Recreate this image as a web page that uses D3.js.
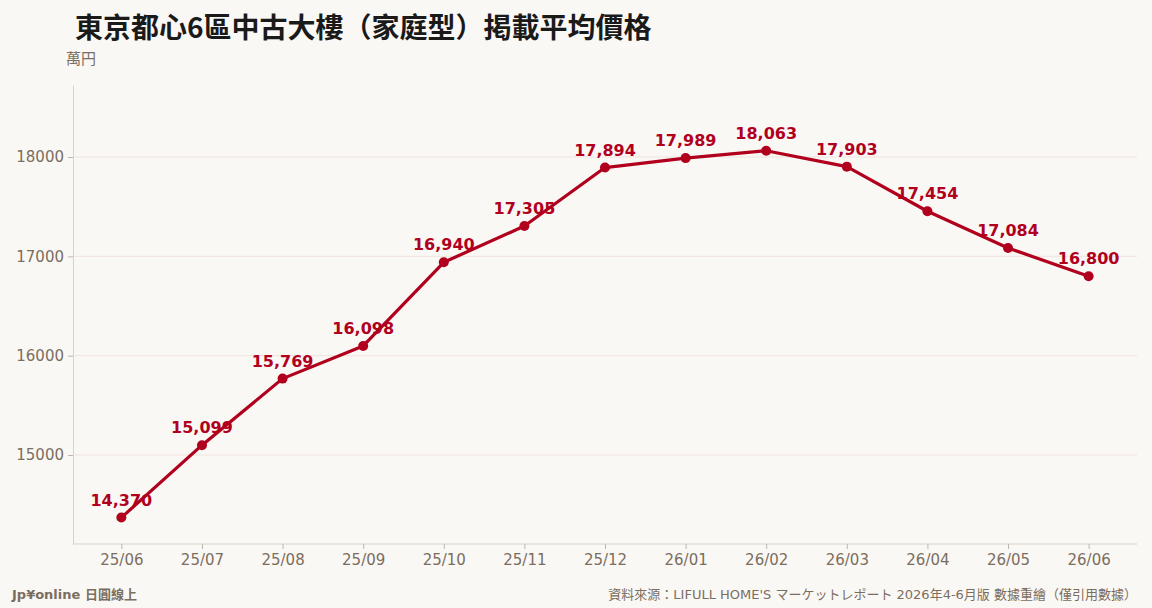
<!DOCTYPE html>
<html>
<head>
<meta charset="utf-8">
<script src="https://cdn.jsdelivr.net/npm/d3@7"></script>
<style>
  html, body { margin: 0; padding: 0; background: #faf8f5; }
  svg { display: block; }
</style>
</head>
<body>
<div id="chart"></div>
<script>
// months and listing price (万円)
var months = ["25/06","25/07","25/08","25/09","25/10","25/11","25/12","26/01","26/02","26/03","26/04","26/05","26/06"];
var prices = [14370, 15099, 15769, 16098, 16940, 17305, 17894, 17989, 18063, 17903, 17454, 17084, 16800];
var yTicks = [15000, 16000, 17000, 18000];

var W = 1152, H = 608;
var plotLeft = 73, plotRight = 1137, plotTop = 85, plotBottom = 544;
var red = "#b0001e", muted = "#7a6e5f";

var svg = d3.select("#chart").append("svg")
    .attr("width", W).attr("height", H);

svg.append("rect").attr("width", W).attr("height", H).attr("fill", "#faf8f5");

var x = d3.scalePoint().domain(months).range([plotLeft, plotRight]).padding(0.6);
var y = d3.scaleLinear().domain([14104, 18725]).range([plotBottom, plotTop]);

// grid lines
svg.append("g").selectAll("line").data(yTicks).join("line")
    .attr("x1", plotLeft).attr("x2", plotRight)
    .attr("y1", function(d){ return y(d); }).attr("y2", function(d){ return y(d); })
    .attr("stroke", "#f0e2dc").attr("stroke-width", 1);

// axes
var yAxis = svg.append("g").attr("transform", "translate(" + plotLeft + ",0)")
    .call(d3.axisLeft(y).tickValues(yTicks).tickSize(5).tickSizeOuter(0).tickPadding(4).tickFormat(d3.format("d")));
var xAxis = svg.append("g").attr("transform", "translate(0," + plotBottom + ")")
    .call(d3.axisBottom(x).tickSize(5).tickSizeOuter(0).tickPadding(5));
xAxis.select(".domain").attr("d", "M" + plotLeft + ",0H" + plotRight);

[xAxis, yAxis].forEach(function(a){
  a.select(".domain").attr("stroke", "#d9d0c7");
  a.selectAll(".tick line").attr("stroke", "#bfb5aa");
  a.selectAll(".tick text").attr("fill", muted)
    .style("font-family", "DejaVu Sans, sans-serif").style("font-size", "15px");
});

// line + points
var line = d3.line()
    .x(function(d, i){ return x(months[i]); })
    .y(function(d){ return y(d); });

svg.append("path").datum(prices)
    .attr("d", line).attr("fill", "none")
    .attr("stroke", red).attr("stroke-width", 3.2).attr("stroke-linejoin", "round");

svg.append("g").selectAll("circle").data(prices).join("circle")
    .attr("cx", function(d, i){ return x(months[i]); })
    .attr("cy", function(d){ return y(d); })
    .attr("r", 5).attr("fill", red);

svg.append("g").selectAll("text").data(prices).join("text")
    .attr("x", function(d, i){ return x(months[i]); })
    .attr("y", function(d){ return y(d) - 12; })
    .attr("text-anchor", "middle")
    .attr("fill", red)
    .style("font-family", "DejaVu Sans, sans-serif").style("font-weight", "bold").style("font-size", "16px")
    .text(function(d){ return d3.format(",")(d); });

// title and labels
svg.append("text").attr("x", 75).attr("y", 38)
    .attr("fill", "#1a1a1a")
    .style("font-family", "'Noto Sans CJK TC', sans-serif").style("font-weight", "bold").style("font-size", "28px")
    .text("東京都心6區中古大樓（家庭型）掲載平均價格");

svg.append("text").attr("x", 66).attr("y", 64)
    .attr("fill", muted)
    .style("font-family", "'Noto Sans CJK TC', sans-serif").style("font-size", "15px")
    .text("萬円");

svg.append("text").attr("x", 12).attr("y", 599)
    .attr("fill", muted)
    .style("font-family", "DejaVu Sans, 'Noto Sans CJK TC', sans-serif").style("font-weight", "bold").style("font-size", "13px")
    .text("Jp¥online 日圓線上");

svg.append("text").attr("x", 1137).attr("y", 599)
    .attr("text-anchor", "end")
    .attr("fill", muted)
    .style("font-family", "DejaVu Sans, 'Noto Sans CJK TC', sans-serif").style("font-size", "13px")
    .text("資料來源：LIFULL HOME'S マーケットレポート 2026年4-6月版 數據重繪（僅引用數據）");
</script>
</body>
</html>
